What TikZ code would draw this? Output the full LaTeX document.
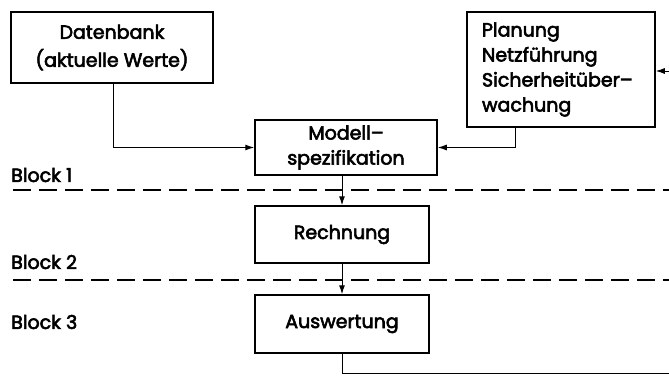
\documentclass[tikz,border=0pt]{standalone}
\usepackage{fontspec}
\setmainfont{Poppins}[FakeBold=3]
\usetikzlibrary{arrows.meta}
\begin{document}
\begin{tikzpicture}[x=1pt,y=-1pt,
  box/.style={draw, line width=1.5pt, inner sep=0pt, align=center,
    font=\fontsize{19}{25}\selectfont},
  lbl/.style={font=\fontsize{19}{25}\selectfont, anchor=west, inner sep=0pt},
  conn/.style={line width=1pt, -{Latex[length=9pt,width=6pt]}},
  plain/.style={line width=1pt},
  sep/.style={line width=1.1pt, dash pattern=on 18pt off 8pt}]
\useasboundingbox (0,0) rectangle (669,383);

\node[box, minimum width=202, minimum height=71, font=\fontsize{19}{28}\selectfont] (db) at (112,47.5) {Datenbank\\(aktuelle Werte)};
\node[box, minimum height=115, text width=158, inner xsep=15, align=left] (pl) at (561,69.5)
  {Planung\\Netzführung\\Sicherheitüber–\\wachung};
\node[box, minimum width=182, minimum height=55] (mo) at (346,147.5) {Modell–\\spezifikation};
\node[box, minimum width=174, minimum height=57] (re) at (342,234.5) {Rechnung};
\node[box, minimum width=174, minimum height=58] (au) at (342,324) {Auswertung};

\node[lbl] (b1) at (11,175) {Block 1};
\node[lbl] (b2) at (11,262) {Block 2};
\node[lbl] (b3) at (11,322) {Block 3};

\coordinate (d1a) at (13,190);
\coordinate (d1b) at (669,190);
\coordinate (d2a) at (13,280);
\coordinate (d2b) at (669,280);
\draw[sep] (d1a) -- (d1b);
\draw[sep] (d2a) -- (d2b);

\draw[conn] ([xshift=1pt]db.south) |- (mo.west);
\draw[conn] ([xshift=-46pt]pl.south) |- (mo.east);
\draw[conn] (re.north |- mo.south) -- (re.north);
\draw[conn] (re.south) -- (au.north);

\coordinate (fbend) at (669,373);
\coordinate (fbin) at (669,71);
\draw[plain] (au.south) |- (fbend);
\draw[conn] (fbin) -- (fbin -| pl.east);
\end{tikzpicture}
\end{document}
